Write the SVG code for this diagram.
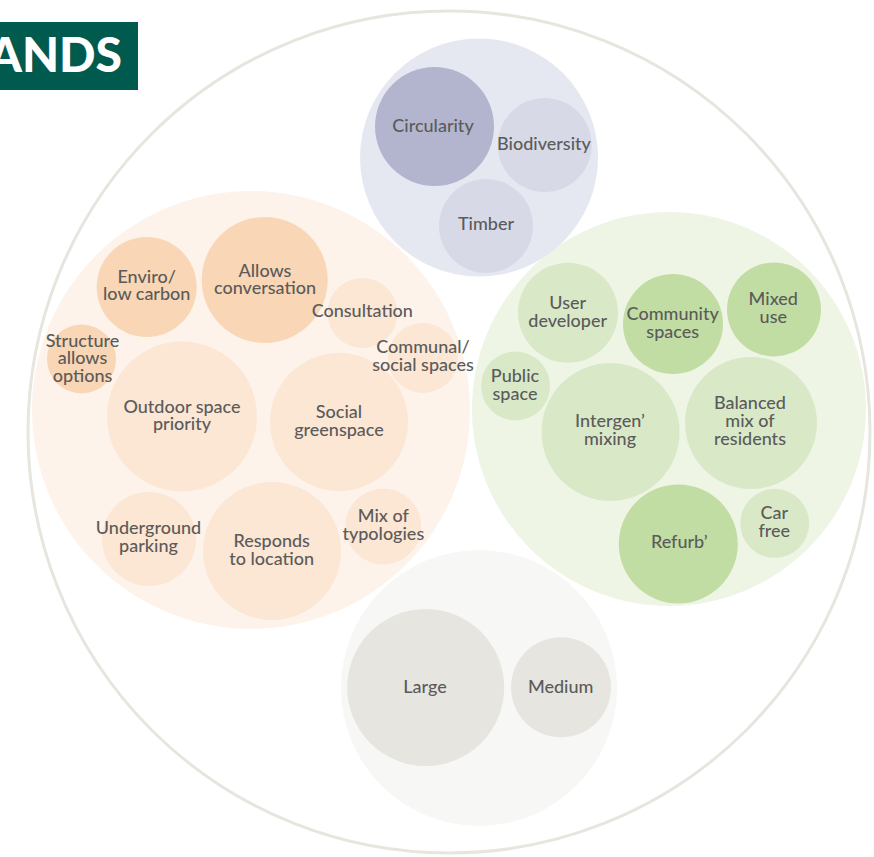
<svg xmlns="http://www.w3.org/2000/svg" width="874" height="857" viewBox="0 0 874 857">
<style>
text{font-family:Lato,"Open Sans","Liberation Sans",sans-serif;font-size:18px;font-weight:500;fill:#5b5b5b;text-anchor:middle}
.po{fill:#f9d6b5}.lo{fill:#fce6d4}
.pg{fill:#c2dda3}.lg{fill:#d9e9c8}
.pp{fill:#b3b5cf}.lp{fill:#d8d9e6}
.gr{fill:#e6e5df}
</style>
<rect width="874" height="857" fill="#ffffff"/>
<g id="title">
<rect x="0" y="22" width="138" height="68" fill="#005a4e"/>
<text x="122" y="72" style="font-size:48px;font-weight:900;fill:#ffffff;text-anchor:end">ANDS</text>
</g>
<circle id="outer" cx="449" cy="432" r="421" fill="none" stroke="#e6e6df" stroke-width="3"/>
<g id="cluster-green">
<circle cx="669" cy="409" r="197" fill="#eef5e5"/>
<g id="user"><circle class="lg" cx="568" cy="312.7" r="50"/><text x="567.7" y="309.3">User</text><text x="567.7" y="327.1">developer</text></g>
<g id="community"><circle class="pg" cx="673" cy="324" r="50"/><text x="672.7" y="320">Community</text><text x="672.7" y="337.8">spaces</text></g>
<g id="mixed"><circle class="pg" cx="774" cy="309.4" r="47"/><text x="773.3" y="305">Mixed</text><text x="773.3" y="322.8">use</text></g>
<g id="public"><circle class="lg" cx="515.5" cy="386" r="34.5"/><text x="515" y="381.7">Public</text><text x="515" y="399.5">space</text></g>
<g id="intergen"><circle class="lg" cx="610.5" cy="432" r="69"/><text x="610" y="426.7">Intergen’</text><text x="610" y="444.5">mixing</text></g>
<g id="balanced"><circle class="lg" cx="751" cy="423" r="66"/><text x="750" y="409.3">Balanced</text><text x="750" y="427.1">mix of</text><text x="750" y="444.9">residents</text></g>
<g id="refurb"><circle class="pg" cx="678.3" cy="544" r="59.5"/><text x="679.3" y="548.3">Refurb’</text></g>
<g id="carfree"><circle class="lg" cx="774.7" cy="523.3" r="34.5"/><text x="774.3" y="519.3">Car</text><text x="774.3" y="537.1">free</text></g>
</g>
<g id="cluster-purple">
<circle cx="479" cy="157.5" r="119" fill="#e6e8f1"/>
<g id="circularity"><circle class="pp" cx="434.5" cy="126.5" r="59.5"/><text x="433" y="131.5">Circularity</text></g>
<g id="biodiversity"><circle class="lp" cx="544.7" cy="145" r="47"/><text x="544" y="149.5">Biodiversity</text></g>
<g id="timber"><circle class="lp" cx="486" cy="226" r="47"/><text x="486" y="230">Timber</text></g>
</g>
<g id="cluster-orange">
<circle cx="251" cy="410" r="219" fill="#fdf3eb"/>
<g id="outdoor"><circle class="lo" cx="182" cy="416.5" r="75"/><text x="182" y="412.5">Outdoor space</text><text x="182" y="430.3">priority</text></g>
<g id="social"><circle class="lo" cx="339" cy="422" r="69"/><text x="339" y="418.3">Social</text><text x="339" y="436.1">greenspace</text></g>
<g id="responds"><circle class="lo" cx="272" cy="551" r="69"/><text x="271.7" y="547.3">Responds</text><text x="271.7" y="565.1">to location</text></g>
<g id="allows"><circle class="po" cx="264.7" cy="280" r="63"/><text x="265" y="276.5">Allows</text><text x="265" y="294.3">conversation</text></g>
<g id="enviro"><circle class="po" cx="146.7" cy="287" r="50"/><text x="146.7" y="282.5">Enviro/</text><text x="146.7" y="300.3">low carbon</text></g>
<g id="underground"><circle class="lo" cx="149" cy="539" r="47"/><text x="148.5" y="534.3">Underground</text><text x="148.5" y="552.1">parking</text></g>
<g id="mix"><circle class="lo" cx="383.3" cy="526.5" r="38"/><text x="383.3" y="522.3">Mix of</text><text x="383.3" y="540.1">typologies</text></g>
<g id="consultation"><circle class="lo" cx="362.5" cy="313" r="35"/><text x="362.3" y="316.7">Consultation</text></g>
<g id="communal"><circle class="lo" cx="423" cy="358" r="35"/><text x="423" y="353.3">Communal/</text><text x="423" y="371.3">social spaces</text></g>
<g id="structure"><circle class="po" cx="81.5" cy="359" r="34.5"/><text x="82.5" y="346.5">Structure</text><text x="82.5" y="364.3">allows</text><text x="82.5" y="382">options</text></g>
</g>
<g id="cluster-grey">
<circle cx="479" cy="688" r="138" fill="#f7f7f5"/>
<g id="large"><circle class="gr" cx="425.7" cy="687.5" r="78.5"/><text x="425" y="692.7">Large</text></g>
<g id="medium"><circle class="gr" cx="561" cy="687.3" r="50"/><text x="560.7" y="692.7">Medium</text></g>
</g>
<g id="connectors"/>
</svg>
